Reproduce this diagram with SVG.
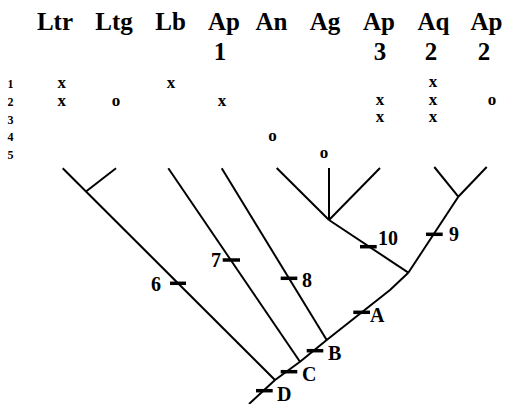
<svg xmlns="http://www.w3.org/2000/svg" width="505" height="404" viewBox="0 0 505 404">
<style>
.hd{font-family:"Liberation Serif",serif;font-weight:bold;font-size:25px;text-anchor:middle;fill:#000}
.rn{font-family:"Liberation Serif",serif;font-weight:bold;font-size:12px;text-anchor:middle;fill:#000}
.mk{font-family:"Liberation Serif",serif;font-weight:bold;font-size:17px;text-anchor:middle;fill:#000}
.lb{font-family:"Liberation Serif",serif;font-weight:bold;font-size:20px;fill:#000}
.ln{fill:none;stroke:#000;stroke-width:2;stroke-linejoin:round}
.tk{stroke:#000;stroke-width:3.5}
</style>
<rect width="505" height="404" fill="#fff"/>
<g id="header">
<text class="hd" x="55" y="30">Ltr</text>
<text class="hd" x="114" y="30">Ltg</text>
<text class="hd" x="170.5" y="30">Lb</text>
<text class="hd" x="224" y="30">Ap</text>
<text class="hd" x="271.5" y="30">An</text>
<text class="hd" x="325" y="30">Ag</text>
<text class="hd" x="379" y="30">Ap</text>
<text class="hd" x="433.5" y="30">Aq</text>
<text class="hd" x="486.5" y="30">Ap</text>
<text class="hd" x="220" y="60">1</text>
<text class="hd" x="380" y="60">3</text>
<text class="hd" x="431" y="60">2</text>
<text class="hd" x="484" y="60">2</text>
</g>
<g id="rows">
<text class="rn" x="10.5" y="88">1</text>
<text class="rn" x="10.5" y="106">2</text>
<text class="rn" x="10.5" y="124">3</text>
<text class="rn" x="10.5" y="141">4</text>
<text class="rn" x="10.5" y="159">5</text>
</g>
<g id="marks">
<text class="mk" x="61.7" y="88">x</text>
<text class="mk" x="171" y="88">x</text>
<text class="mk" x="433" y="87">x</text>
<text class="mk" x="61.7" y="106">x</text>
<text class="mk" x="116" y="106">o</text>
<text class="mk" x="222" y="106">x</text>
<text class="mk" x="380" y="104.5">x</text>
<text class="mk" x="433" y="104.5">x</text>
<text class="mk" x="492" y="104.5">o</text>
<text class="mk" x="380" y="122">x</text>
<text class="mk" x="433" y="122">x</text>
<text class="mk" x="272.5" y="141">o</text>
<text class="mk" x="324" y="158">o</text>
</g>
<g id="connectors">
<polyline class="ln" points="249,404 275,380 300,361.7 326.7,340 390,290 408.3,272.7"/>
<line class="ln" x1="62.7" y1="168.3" x2="275" y2="380"/>
<line class="ln" x1="85.7" y1="191.7" x2="116" y2="168.3"/>
<line class="ln" x1="168.3" y1="168.3" x2="300" y2="361.7"/>
<line class="ln" x1="221.7" y1="168.3" x2="326.7" y2="340"/>
<line class="ln" x1="408.3" y1="272.7" x2="329" y2="220"/>
<line class="ln" x1="276.7" y1="168" x2="329" y2="220"/>
<line class="ln" x1="329" y1="168" x2="329" y2="220"/>
<line class="ln" x1="380" y1="168" x2="329" y2="220"/>
<line class="ln" x1="408.3" y1="272.7" x2="458.3" y2="196.7"/>
<line class="ln" x1="434.3" y1="167" x2="458.3" y2="196.7"/>
<line class="ln" x1="486.7" y1="167" x2="458.3" y2="196.7"/>
</g>
<g id="ticks">
<line class="tk" x1="170" y1="283.3" x2="186" y2="283.3"/>
<line class="tk" x1="222.7" y1="260" x2="240" y2="260"/>
<line class="tk" x1="280.7" y1="278.3" x2="297.3" y2="278.3"/>
<line class="tk" x1="360" y1="246.7" x2="376.7" y2="246.7"/>
<line class="tk" x1="426" y1="234.3" x2="442.7" y2="234.3"/>
<line class="tk" x1="353.3" y1="312.3" x2="370" y2="312.3"/>
<line class="tk" x1="306.7" y1="350.7" x2="323.3" y2="350.7"/>
<line class="tk" x1="280.7" y1="371.7" x2="297.3" y2="371.7"/>
<line class="tk" x1="256" y1="390.7" x2="272.7" y2="390.7"/>
</g>
<g id="labels">
<text class="lb" x="151" y="291">6</text>
<text class="lb" x="211" y="267">7</text>
<text class="lb" x="302" y="287">8</text>
<text class="lb" x="378" y="245">10</text>
<text class="lb" x="449" y="241">9</text>
<text class="lb" x="370" y="322">A</text>
<text class="lb" x="328" y="360">B</text>
<text class="lb" x="302" y="381">C</text>
<text class="lb" x="277" y="401">D</text>
</g>
</svg>
